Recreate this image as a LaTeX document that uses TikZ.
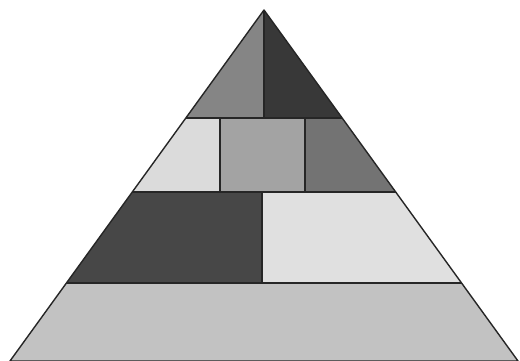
\documentclass[tikz,border=0pt]{standalone}
\begin{document}
\begin{tikzpicture}[x=1pt,y=-1pt,
  piece/.style={draw=black!85,line width=1.4pt,line join=round}]
\useasboundingbox (0,0) rectangle (520,361);
% apex and edge points
\coordinate (A) at (264,10);
\coordinate (L1) at (185.9,118); \coordinate (R1) at (342.1,118); \coordinate (M1) at (264,118);
\coordinate (L2) at (132.3,192); \coordinate (R2) at (395.7,192);
\coordinate (L3) at (66.5,283);  \coordinate (R3) at (461.5,283);
\coordinate (L4) at (10,361);    \coordinate (R4) at (518,361);
\coordinate (a1) at (220,118); \coordinate (a2) at (220,192);
\coordinate (b1) at (305,118); \coordinate (b2) at (305,192);
\coordinate (c1) at (262,192); \coordinate (c2) at (262,283);
% band 1
\fill[black!48] (A) -- (M1) -- (L1) -- cycle;
\fill[black!78] (A) -- (R1) -- (M1) -- cycle;
% band 2
\fill[black!14] (L1) -- (a1) -- (a2) -- (L2) -- cycle;
\fill[black!36] (a1) -- (b1) -- (b2) -- (a2) -- cycle;
\fill[black!55] (b1) -- (R1) -- (R2) -- (b2) -- cycle;
% band 3
\fill[black!72] (L2) -- (c1) -- (c2) -- (L3) -- cycle;
\fill[black!12] (c1) -- (R2) -- (R3) -- (c2) -- cycle;
% band 4
\fill[black!24] (L3) -- (R3) -- (R4) -- (L4) -- cycle;
% outlines
\draw[piece] (A) -- (L4) -- (R4) -- cycle;
\draw[piece] (L1) -- (R1) (L2) -- (R2) (L3) -- (R3);
\draw[piece] (A) -- (M1) (a1) -- (a2) (b1) -- (b2) (c1) -- (c2);
\end{tikzpicture}
\end{document}
